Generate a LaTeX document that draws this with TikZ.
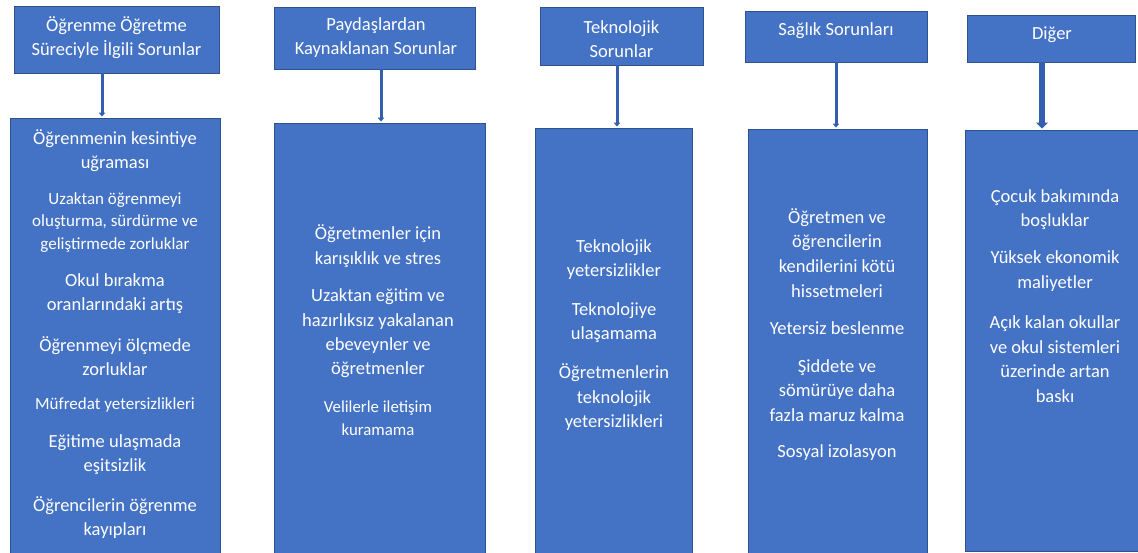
\documentclass[tikz,border=0pt]{standalone}
\usepackage{fontspec}
\setmainfont{Carlito}
\usetikzlibrary{arrows.meta}
\definecolor{boxc}{HTML}{4472C4}
\definecolor{bordc}{HTML}{2F528F}
\definecolor{arrc}{HTML}{3360AE}
\newcommand{\bigf}{\fontsize{18.5}{24.5}\selectfont}
\newcommand{\midf}{\fontsize{17}{22.5}\selectfont}
\newcommand{\smallf}{\fontsize{17}{21}\selectfont}
\begin{document}
\begin{tikzpicture}[x=1pt,y=-1pt,
  boxnode/.style={draw=bordc, fill=boxc, line width=0.9pt, inner sep=0pt},
  txt/.style={text=white, align=center, inner sep=0pt, font=\bigf},
  arr/.style={draw=arrc, line width=3pt, -{Triangle[width=6.5pt,length=4pt]}, shorten >=1pt},
  arrbig/.style={draw=arrc, line width=6pt, -{Triangle[width=12pt,length=6pt]}, shorten >=1pt}]
\useasboundingbox (0,0) rectangle (1138,553);
\clip (0,0) rectangle (1138,553);
% top boxes
\node[boxnode, minimum width=205pt, minimum height=67pt] (t1) at (116.5,39.5) {};
\node[boxnode, minimum width=201pt, minimum height=62pt] (t2) at (374.5,38) {};
\node[boxnode, minimum width=163pt, minimum height=58pt] (t3) at (621.5,36) {};
\node[boxnode, minimum width=182pt, minimum height=51pt] (t4) at (836,36.5) {};
\node[boxnode, minimum width=168pt, minimum height=47pt] (t5) at (1051,38.5) {};
% bottom boxes
\node[boxnode, minimum width=210pt, minimum height=442pt] (b1) at (115,339) {};
\node[boxnode, minimum width=211pt, minimum height=437pt] (b2) at (379.5,341.5) {};
\node[boxnode, minimum width=157pt, minimum height=432pt] (b3) at (613.5,344) {};
\node[boxnode, minimum width=179pt, minimum height=431pt] (b4) at (837.5,344.5) {};
\node[boxnode, minimum width=175pt, minimum height=421pt] (b5) at (1052.5,340.5) {};
% connectors
\draw[arr] ([xshift=-14.5pt]t1.south) -- ([xshift=-14.5pt]t1.south |- b1.north);
\draw[arr] ([xshift=6.5pt]t2.south) -- ([xshift=6.5pt]t2.south |- b2.north);
\draw[arr] ([xshift=-4.5pt]t3.south) -- ([xshift=-4.5pt]t3.south |- b3.north);
\draw[arr] (t4.south) -- (t4.south |- b4.north);
\draw[arrbig] ([xshift=-9pt]t5.south) -- ([xshift=-9pt]t5.south |- b5.north);
% top texts
\node[txt] (t1x) at (116.5,37.5) {Öğrenme Öğretme\\Süreciyle İlgili Sorunlar};
\node[txt] (t2x) at (376,37.5) {Paydaşlardan\\Kaynaklanan Sorunlar};
\node[txt] (t3x) at (621.5,39) {Teknolojik\\Sorunlar};
\node[txt] (t4x) at (836,31) {Sağlık Sorunları};
\node[txt] (t5x) at (1052,35) {Diğer};
% box 1 items
\node[txt] (i11) at (115,150.5) {Öğrenmenin kesintiye\\uğraması};
\node[txt, font=\midf] (i12) at (115,222.5) {Uzaktan öğrenmeyi\\oluşturma, sürdürme ve\\geliştirmede zorluklar};
\node[txt] (i13) at (115,293.5) {Okul bırakma\\oranlarındaki artış};
\node[txt] (i14) at (115,356) {Öğrenmeyi ölçmede\\zorluklar};
\node[txt, font=\smallf] (i15) at (115,405) {Müfredat yetersizlikleri};
\node[txt] (i16) at (115,454.5) {Eğitime ulaşmada\\eşitsizlik};
\node[txt] (i17) at (115,517.5) {Öğrencilerin öğrenme\\kayıpları};
% box 2 items
\node[txt] (i21) at (378,246) {Öğretmenler için\\karışıklık ve stres};
\node[txt, font=\fontsize{18.5}{24.3}\selectfont] (i22) at (378,333.5) {Uzaktan eğitim ve\\hazırlıksız yakalanan\\ebeveynler ve\\öğretmenler};
\node[txt, font=\fontsize{16.8}{23.3}\selectfont] (i23) at (378,418.5) {Velilerle iletişim\\kuramama};
% box 3 items
\node[txt] (i31) at (614,259.5) {Teknolojik\\yetersizlikler};
\node[txt] (i32) at (614,322.5) {Teknolojiye\\ulaşamama};
\node[txt] (i33) at (614,397.5) {Öğretmenlerin\\teknolojik\\yetersizlikleri};
% box 4 items
\node[txt, font=\fontsize{18.5}{24.7}\selectfont] (i41) at (837,253) {Öğretmen ve\\öğrencilerin\\kendilerini kötü\\hissetmeleri};
\node[txt] (i42) at (837,328) {Yetersiz beslenme};
\node[txt, font=\fontsize{18.5}{24.5}\selectfont] (i43) at (837,390.5) {Şiddete ve\\sömürüye daha\\fazla maruz kalma};
\node[txt] (i44) at (837,453) {Sosyal izolasyon};
% box 5 items
\node[txt] (i51) at (1055,209.5) {Çocuk bakımında\\boşluklar};
\node[txt] (i52) at (1055,271) {Yüksek ekonomik\\maliyetler};
\node[txt, font=\fontsize{18.5}{24.7}\selectfont] (i53) at (1055,359) {Açık kalan okullar\\ve okul sistemleri\\üzerinde artan\\baskı};
\end{tikzpicture}
\end{document}
